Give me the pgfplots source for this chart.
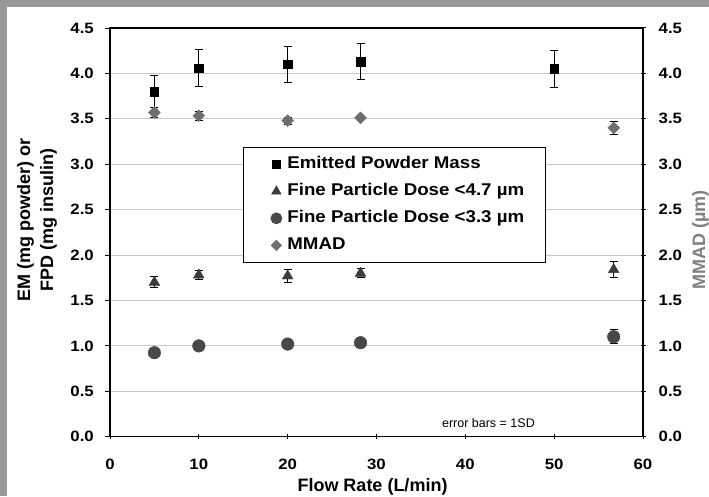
\documentclass[border=0pt]{standalone}
\usepackage{fontspec}
\setmainfont{Liberation Sans}
\usepackage{pgfplots}
\pgfplotsset{compat=1.18}

\definecolor{framegray}{RGB}{153,153,153}
\definecolor{gridgray}{RGB}{200,200,200}
\definecolor{tricol}{RGB}{60,60,60}
\definecolor{circcol}{RGB}{72,72,72}
\definecolor{diacol}{RGB}{110,110,110}
\definecolor{mmadlab}{RGB}{128,128,128}

\newcommand\tickfont{\bfseries\fontsize{15}{18}\selectfont\addfontfeatures{FakeStretch=1.12}}
\newcommand\legfont{\bfseries\fontsize{17}{20}\selectfont\addfontfeatures{FakeStretch=1.1}}

\pgfplotsset{
  base/.style={
    scale only axis, width=533pt, height=408.7pt,
    at={(110pt,59.3pt)}, anchor=south west,
    xmin=0, xmax=60, ymin=0, ymax=4.5,
    xtick={0,10,20,30,40,50,60},
    ytick={0,0.5,1,1.5,2,2.5,3,3.5,4,4.5},
    /pgf/number format/assume math mode=true,
    tick label style={font=\tickfont},
    yticklabel style={/pgf/number format/fixed,
      /pgf/number format/fixed zerofill, /pgf/number format/precision=1},
    axis line style={line width=1.3pt},
    major tick length=5pt,
    tick style={line width=1pt, black},
  },
  eb/.style={error bars/.cd, y dir=both, y explicit,
    error bar style={black, line width=1pt},
    error mark options={rotate=90, black, mark size=4pt, line width=1pt}},
}

\begin{document}
\begin{tikzpicture}
\fill[framegray] (0,0) rectangle (709pt,496pt);
\fill[white] (7pt,0) rectangle (709pt,489pt);
\useasboundingbox (0,0) rectangle (709pt,496pt);

\begin{axis}[base,
  xtick pos=left, ytick pos=left,
  xtick align=center, ytick align=outside,
  xticklabel shift=20pt, yticklabel shift=11pt,
  xticklabel style={inner sep=0pt, anchor=north},
  yticklabel style={inner sep=0pt, anchor=east},
  ymajorgrids, grid style={gridgray, line width=0.8pt},
  legend style={at={(0.2495,0.709)}, anchor=north west,
    draw=black, line width=0.8pt, fill=white,
    inner xsep=20pt, inner ysep=8pt, row sep=9pt,
    font=\legfont,
    nodes={inner sep=1pt, text height=12.5pt, text depth=3.5pt},
    /tikz/every odd column/.append style={column sep=4pt}},
  legend cell align=left,
  legend image code/.code={\path[draw=none] (-13pt,-3pt) rectangle (6pt,3pt);
    \draw[#1, mark size=0.9*\pgfplotmarksize] plot coordinates {(0pt,0pt)};},
]
% emitted powder mass
\addplot[only marks, mark=square*, mark size=4.2pt, black,
  mark options={line width=0.4pt}, eb] coordinates {
  (5,3.80) +- (0,0.18)
  (10,4.06) +- (0,0.20)
  (20,4.10) +- (0,0.20)
  (28.2,4.13) +- (0,0.20)
  (50,4.05) +- (0,0.205)
};
% FPD < 4.7 um
\addplot[only marks, mark=triangle*, mark size=6.2pt, tricol,
  mark options={line width=0.4pt}, eb] coordinates {
  (5,1.70) +- (0,0.06)
  (10,1.78) +- (0,0.05)
  (20,1.77) +- (0,0.07)
  (28.2,1.80) +- (0,0.05)
  (56.7,1.84) +- (0,0.09)
};
% FPD < 3.3 um
\addplot[only marks, mark=*, mark size=6.3pt, circcol,
  mark options={line width=0.4pt}, eb] coordinates {
  (5,0.925) +- (0,0.03)
  (10,1.00) +- (0,0.03)
  (20,1.02) +- (0,0.03)
  (28.2,1.035) +- (0,0.03)
  (56.7,1.10) +- (0,0.075)
};
\addlegendimage{only marks, mark=square*, mark size=4.2pt, diacol,
  mark options={rotate=45, line width=0.4pt}}
\legend{Emitted Powder Mass, Fine Particle Dose <4.7 µm,
  Fine Particle Dose <3.3 µm, MMAD}
\node[font=\fontsize{12.5}{14}\selectfont] at (axis cs:42.6,0.15) {error bars = 1SD};
\end{axis}

% right axis: MMAD
\begin{axis}[base,
  axis x line=none, axis y line*=right,
  ytick align=center,
  yticklabel shift=13pt,
  yticklabel style={inner sep=0pt, anchor=west},
]
\addplot[only marks, mark=square*, mark size=4.2pt, diacol,
  mark options={rotate=45, line width=0.4pt}, eb] coordinates {
  (5,3.57) +- (0,0.05)
  (10,3.535) +- (0,0.05)
  (20,3.48) +- (0,0.04)
  (28.2,3.51) +- (0,0.02)
  (56.7,3.40) +- (0,0.07)
};
\end{axis}

\node[rotate=90, align=center, font=\bfseries\fontsize{18}{23}\selectfont]
  at (37pt,276pt) {EM (mg powder) or\\FPD (mg insulin)};
\node[rotate=90, text=mmadlab, font=\bfseries\fontsize{18}{22}\selectfont]
  at (700.5pt,256pt) {MMAD (µm)};
\node[anchor=base, font=\bfseries\fontsize{18}{22}\selectfont]
  at (372.5pt,4.3pt) {Flow Rate (L/min)};
\end{tikzpicture}
\end{document}
